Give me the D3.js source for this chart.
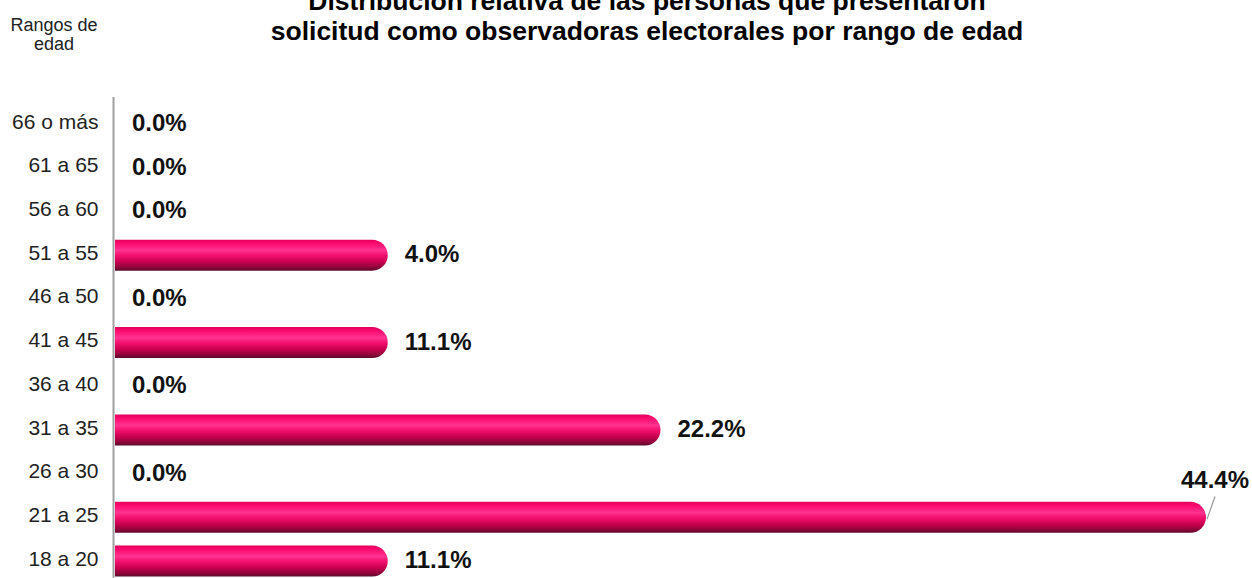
<!DOCTYPE html>
<html><head><meta charset="utf-8">
<script src="https://cdn.jsdelivr.net/npm/d3@7/dist/d3.min.js"></script>
<style>
html,body{margin:0;padding:0;background:#fff;}
svg{display:block;font-family:"Liberation Sans",Arial,sans-serif;}
</style></head>
<body>
<svg id="chart" width="1252" height="578"></svg>
<script>
// Categories, top to bottom
const categorias = ["66 o más","61 a 65","56 a 60","51 a 55","46 a 50","41 a 45","36 a 40","31 a 35","26 a 30","21 a 25","18 a 20"];
// Bar lengths as drawn in the picture (percent)
const valores = [0, 0, 0, 11.1, 0, 11.1, 0, 22.2, 0, 44.4, 11.1];
// Value labels as printed
const etiquetas = ["0.0%","0.0%","0.0%","4.0%","0.0%","11.1%","0.0%","22.2%","0.0%","44.4%","11.1%"];
const tituloLineas = ["Distribución relativa de las personas que presentaron","solicitud como observadoras electorales por rango de edad"];
const ejeTitulo = ["Rangos de","edad"];

const svg = d3.select("#chart");
const defs = svg.append("defs");
const grad = defs.append("linearGradient").attr("id","barGrad")
  .attr("x1",0).attr("y1",0).attr("x2",0).attr("y2",1);
[[0,"#e4005c"],[0.12,"#fb0a6e"],[0.35,"#ff3390"],[0.5,"#f5126f"],[0.72,"#c8004f"],[0.9,"#8a0638"],[1,"#5e0a2c"]]
  .forEach(([o,c])=>grad.append("stop").attr("offset",o).attr("stop-color",c));

const x = d3.scaleLinear().domain([0,44.4]).range([115,1206]);
const y = d3.scaleBand().domain(categorias).range([102.2,582.9]).paddingInner(0.29).paddingOuter(0.145);

// Title
const t = svg.append("text").attr("text-anchor","middle").attr("font-weight","bold")
  .attr("font-size",26.5).attr("fill","#000");
tituloLineas.forEach((l,i)=>t.append("tspan").attr("x",647).attr("y",10+i*30).text(l));

// Axis title
const at = svg.append("text").attr("text-anchor","middle").attr("font-size",18).attr("fill","#222");
ejeTitulo.forEach((l,i)=>at.append("tspan").attr("x",54).attr("y",31+i*19).text(l));

// Bars
svg.append("g").selectAll("path").data(categorias.map((c,i)=>({c,v:valores[i],l:etiquetas[i]})).filter(d=>d.v>0))
  .join("path")
  .attr("fill","url(#barGrad)")
  .attr("d",d=>{
    const x0=x(0), x1=x(d.v), y0=y(d.c), h=y.bandwidth(), r=h/2;
    return `M${x0},${y0}H${x1-r}A${r},${r} 0 0 1 ${x1-r},${y0+h}H${x0}Z`;
  });

// Axis line
const yAxis = d3.axisLeft(y).tickSize(0).tickPadding(15);
const ag = svg.append("g").attr("transform","translate(113.5,0)").call(yAxis);
ag.select(".domain").attr("stroke","#a0a0a0").attr("stroke-width",2).attr("d","M0,97V578");
ag.selectAll(".tick text").attr("font-size",21).attr("fill","#222")
  .attr("font-family","'Liberation Sans',Arial,sans-serif").attr("dy","0.22em");

// Value labels
const datos = categorias.map((c,i)=>({c,v:valores[i],l:etiquetas[i]}));
svg.append("g").selectAll("text").data(datos).join("text")
  .attr("font-size",24).attr("font-weight","bold").attr("fill","#111")
  .attr("x",d=>d.v>=40 ? 1181 : x(d.v)+17)
  .attr("y",d=>d.v>=40 ? 488 : y(d.c)+y.bandwidth()/2+7)
  .text(d=>d.l);

// Leader line for the largest bar
const big = datos.filter(d=>d.v>=40);
svg.append("g").selectAll("line").data(big).join("line")
  .attr("x1",1215).attr("y1",496.5)
  .attr("x2",d=>x(d.v)+1).attr("y2",d=>y(d.c)+y.bandwidth()/2+2)
  .attr("stroke","#999").attr("stroke-width",1.2);
</script>
</body></html>
